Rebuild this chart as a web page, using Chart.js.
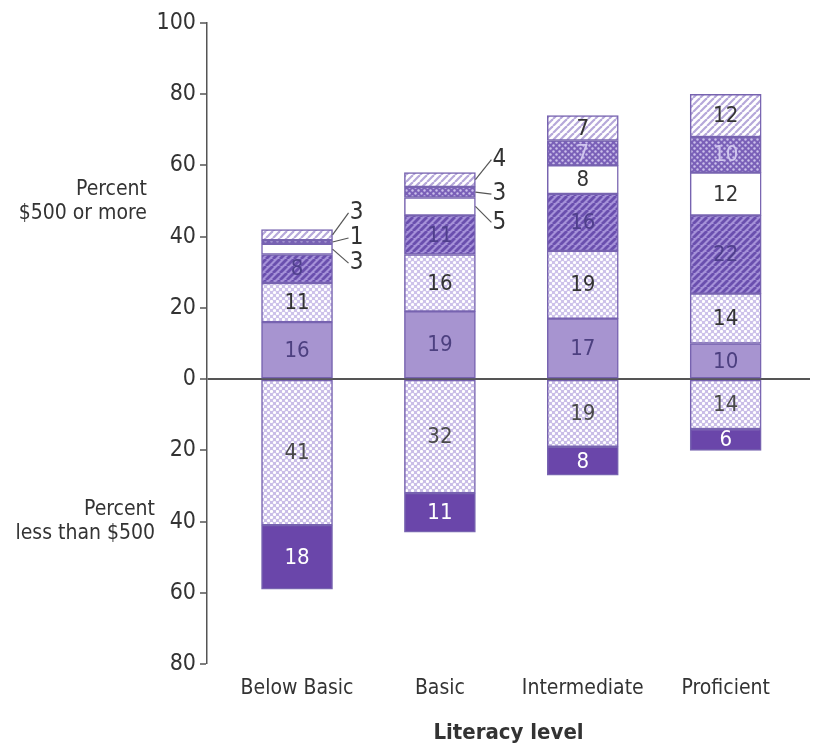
<!DOCTYPE html>
<html>
<head>
<meta charset="utf-8">
<script src="https://cdn.jsdelivr.net/npm/chart.js@4.4.1/dist/chart.umd.min.js"></script>
<style>
  html, body { margin: 0; padding: 0; background: #fff; }
</style>
</head>
<body>
<canvas id="chart" width="817" height="750"></canvas>
<script>
// Categories (literacy levels)
const categories = ["Below Basic", "Basic", "Intermediate", "Proficient"];

// Percent $500 or more, stacked upward from zero
const moreA = [16, 19, 17, 10];
const moreB = [11, 16, 19, 14];
const moreC = [8, 11, 16, 22];
const moreD = [3, 5, 8, 12];
const moreE = [1, 3, 7, 10];
const moreF = [3, 4, 7, 12];

// Percent less than $500, stacked downward from zero
const lessA = [41, 32, 19, 14];
const lessB = [18, 11, 8, 6];

// Y axis range
const yMin = -80;
const yMax = 100;
const yStep = 20;

const FONT = "'Liberation Sans Narrow', 'DejaVu Sans Condensed', 'Arial Narrow', sans-serif";
const EDGE = "#7763b0";

// Build fill patterns from small tiles
function tile(size, draw) {
  const c = document.createElement("canvas");
  c.width = size;
  c.height = size;
  draw(c.getContext("2d"), size);
  return c.getContext("2d").createPattern(c, "repeat");
}

function dots(bg, fg, r) {
  return tile(6, (g, s) => {
    g.fillStyle = bg;
    g.fillRect(0, 0, s, s);
    g.fillStyle = fg;
    [[1.5, 1.5], [4.5, 4.5]].forEach(p => {
      g.beginPath();
      g.arc(p[0], p[1], r, 0, Math.PI * 2);
      g.fill();
    });
  });
}

function hatch(bg, fg, w, size) {
  return tile(size, (g, s) => {
    g.fillStyle = bg;
    g.fillRect(0, 0, s, s);
    g.strokeStyle = fg;
    g.lineWidth = w;
    [-s, 0, s].forEach(o => {
      g.beginPath();
      g.moveTo(o, s);
      g.lineTo(o + s, 0);
      g.stroke();
    });
  });
}

const fills = {
  solidMid: "#a794d0",
  lightDots: dots("#cdc2ea", "#ffffff", 1.6),
  darkHatch: hatch("#a591d8", "#6a4fae", 2.8, 7),
  white: "#ffffff",
  darkDots: dots("#7a60b8", "#cbc0ea", 1.2),
  lightHatch: hatch("#ffffff", "#b6a8da", 2.2, 7),
  lessDots: dots("#c9bde7", "#ffffff", 1.6),
  solidDark: "#6a46aa"
};

function series(values, sign, fill, labelColor) {
  return {
    data: values.map((v, i) => ({ x: i, y: sign * v })),
    backgroundColor: fill,
    borderColor: EDGE,
    borderWidth: 1.5,
    borderSkipped: false,
    barThickness: 71,
    labelColor: labelColor
  };
}

const datasets = [
  series(moreA, 1, fills.solidMid, "#4d4080"),
  series(moreB, 1, fills.lightDots, "#333333"),
  series(moreC, 1, fills.darkHatch, "#4f3f8c"),
  series(moreD, 1, fills.white, "#333333"),
  series(moreE, 1, fills.darkDots, "#d0c6ee"),
  series(moreF, 1, fills.lightHatch, "#333333"),
  series(lessA, -1, fills.lessDots, "#4a4a4a"),
  series(lessB, -1, fills.solidDark, "#ffffff")
];

// Small top segments labelled outside the bar: dataset index -> pixel nudge per category
const calloutNudge = {
  3: [14, 16, null, null],
  4: [-4, 2, null, null],
  5: [-22, -20, null, null]
};

// Segment values, callouts and side captions
const annotations = {
  id: "annotations",
  afterDatasetsDraw(chart) {
    const ctx = chart.ctx;
    ctx.save();
    ctx.textAlign = "center";
    ctx.textBaseline = "middle";

    chart.data.datasets.forEach((ds, di) => {
      const meta = chart.getDatasetMeta(di);
      meta.data.forEach((bar, j) => {
        const value = Math.abs(ds.data[j].y);
        const mid = (bar.y + bar.base) / 2;
        const nudge = calloutNudge[di] ? calloutNudge[di][j] : null;
        if (nudge !== null && nudge !== undefined) {
          const right = bar.x + bar.width / 2;
          const lx = right + 24;
          ctx.strokeStyle = "#555";
          ctx.lineWidth = 1.2;
          ctx.beginPath();
          ctx.moveTo(right, mid);
          ctx.lineTo(lx - 8, mid + nudge);
          ctx.stroke();
          ctx.fillStyle = "#333";
          ctx.font = "24px " + FONT;
          ctx.fillText(value, lx, mid + nudge);
        } else {
          ctx.fillStyle = ds.labelColor;
          ctx.font = "22px " + FONT;
          ctx.fillText(value, bar.x, mid + 1);
        }
      });
    });

    // Side captions next to the y axis
    const y = chart.scales.y;
    ctx.fillStyle = "#333";
    ctx.textAlign = "right";
    ctx.font = "21px " + FONT;
    const up = y.getPixelForValue(50);
    ctx.fillText("Percent", 147, up - 12);
    ctx.fillText("$500 or more", 147, up + 12);
    const down = y.getPixelForValue(-40);
    ctx.fillText("Percent", 155, down - 12);
    ctx.fillText("less than $500", 155, down + 12);
    ctx.restore();
  }
};

const chart = new Chart(document.getElementById("chart"), {
  type: "bar",
  data: { datasets: datasets },
  options: {
    responsive: false,
    animation: false,
    layout: { padding: { top: 23, right: 7, left: 0, bottom: 0 } },
    plugins: {
      legend: { display: false },
      tooltip: { enabled: false }
    },
    scales: {
      x: {
        type: "linear",
        stacked: true,
        offset: false,
        min: -0.63,
        max: 3.59,
        grid: { display: false, drawTicks: false },
        border: { display: false },
        ticks: {
          stepSize: 1,
          includeBounds: false,
          autoSkip: false,
          maxRotation: 0,
          padding: 12,
          color: "#333",
          font: { family: FONT, size: 21 },
          callback: v => categories[v] ?? ""
        },
        title: {
          display: true,
          text: "Literacy level",
          color: "#333",
          font: { family: FONT, size: 22, weight: "bold" },
          padding: { top: 0, bottom: 4 }
        },
        afterFit: s => { s.height = 86; s.paddingLeft = 0; s.paddingRight = 0; }
      },
      y: {
        stacked: true,
        min: yMin,
        max: yMax,
        z: 1,
        border: { display: true, color: "#555", width: 1.5 },
        grid: {
          color: c => (c.tick && c.tick.value === 0 ? "#555" : "rgba(0,0,0,0)"),
          lineWidth: c => (c.tick && c.tick.value === 0 ? 2 : 0),
          drawTicks: true,
          tickLength: 7,
          tickColor: "#555",
          tickWidth: 1.5
        },
        ticks: {
          stepSize: yStep,
          padding: 4,
          color: "#333",
          font: { family: FONT, size: 23 },
          callback: v => Math.abs(v)
        },
        afterFit: s => { s.width = 207; s.paddingTop = 0; s.paddingBottom = 0; }
      }
    }
  },
  plugins: [annotations]
});
</script>
</body>
</html>
